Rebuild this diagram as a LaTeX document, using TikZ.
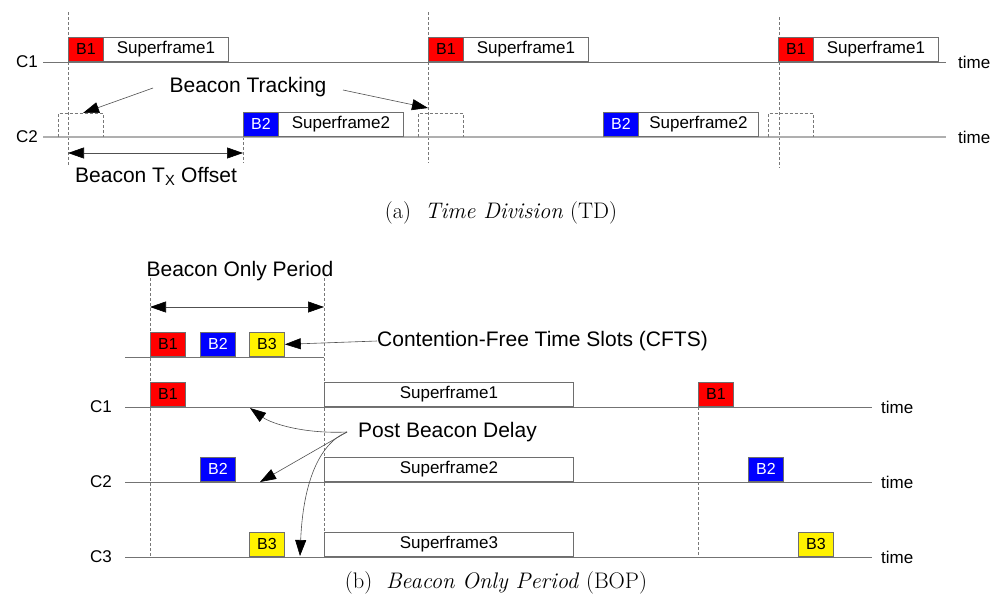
\documentclass[tikz,border=0pt]{standalone}
\usepackage{fontspec}
\setsansfont{Liberation Sans}
\usetikzlibrary{arrows.meta}
\definecolor{lineA}{RGB}{115,115,115}
\definecolor{lineB}{RGB}{175,175,175}
\definecolor{bord}{RGB}{110,110,110}
\definecolor{dashc}{RGB}{120,120,120}
\definecolor{arrc}{RGB}{80,80,80}
\tikzset{
  big/.style={font=\sffamily\fontsize{21}{24}\selectfont, inner sep=0pt},
  mid/.style={font=\sffamily\fontsize{17}{20}\selectfont, inner sep=0pt},
  bcn/.style={draw=bord, line width=0.8pt, minimum width=35pt, minimum height=24.5pt, inner sep=0pt, anchor=south west, font=\sffamily\fontsize{16}{18}\selectfont},
  sfbox/.style={draw=bord, line width=0.8pt, fill=white, minimum height=24.5pt, inner sep=0pt, anchor=south west, font=\sffamily\fontsize{17}{20}\selectfont},
  tl/.style={draw=lineA, line width=0.9pt},
  tl2/.style={draw=lineB, line width=1.2pt},
  dsh/.style={draw=dashc, line width=0.7pt, dash pattern=on 3pt off 2pt},
  arr/.style={draw=arrc, line width=0.6pt, -{Triangle[length=16pt,width=11pt,color=black]}},
  darr/.style={draw=arrc, line width=0.6pt, {Triangle[length=16pt,width=11pt,color=black]}-{Triangle[length=16pt,width=11pt,color=black]}},
  captxt/.style={font=\fontsize{22.5}{26}\selectfont, inner sep=0pt}
}
\begin{document}
\begin{tikzpicture}[x=1pt,y=-1pt]
\useasboundingbox (0,0) rectangle (992,600);
% ===== Part (a) =====
\draw[dsh] (68,12) -- (68,165);
\draw[dsh] (428,12) -- (428,163);
\draw[dsh] (779,17) -- (779,168);
\draw[dsh] (243,137) -- (243,163);
\coordinate (a1s) at (43,62); \coordinate (a1e) at (946,62);
\coordinate (a2s) at (43,137); \coordinate (a2e) at (946,137);
\draw[tl] (a1s) -- (a1e);
\draw[tl2] (a2s) -- (a2e);
\node[mid] (ac1) at (27,62) {C1};
\node[mid] (ac2) at (27,137) {C2};
\node[mid, anchor=west] (at1) at (958,62) {time};
\node[mid, anchor=west] (at2) at (958,137) {time};
\draw[dsh] (58,137) -- (58,113.5) -- (103,113.5) -- (103,137);
\draw[dsh] (418,137) -- (418,113.5) -- (463,113.5) -- (463,137);
\draw[dsh] (768,137) -- (768,113.5) -- (813,113.5) -- (813,137);
\node[sfbox, minimum width=125pt] (asf1) at (103,62) {Superframe1};
\node[bcn, fill=red] (ab1) at (68,62) {B1};
\node[sfbox, minimum width=125pt] (asf2) at (463,62) {Superframe1};
\node[bcn, fill=red] (ab2) at (428,62) {B1};
\node[sfbox, minimum width=125pt] (asf3) at (813,62) {Superframe1};
\node[bcn, fill=red] (ab3) at (778,62) {B1};
\node[sfbox, minimum width=125pt] (asf4) at (278,137) {Superframe2};
\node[bcn, fill=blue, text=white] (ab4) at (243,137) {B2};
\node[sfbox, minimum width=120pt] (asf5) at (638,137) {Superframe2};
\node[bcn, fill=blue, text=white] (ab5) at (603,137) {B2};
\node[big] (btrk) at (248,87) {Beacon Tracking};
\coordinate (bt1s) at (153,88); \coordinate (bt1e) at (83,113);
\coordinate (bt2s) at (343,90); \coordinate (bt2e) at (428,108);
\draw[arr] (bt1s) -- (bt1e);
\draw[arr] (bt2s) -- (bt2e);
\coordinate (off1) at (68,153); \coordinate (off2) at (243,153);
\draw[darr] (off1) -- (off2);
\node[big, anchor=west] (btx) at (75,176) {Beacon T\textsubscript{X} Offset};
\node[captxt] (capa) at (501,213) {(a)\ \ \textit{Time Division} (TD)};
% ===== Part (b) =====
\draw[dsh] (150,278) -- (150,557);
\draw[dsh] (324,278) -- (324,557);
\draw[dsh] (698,407) -- (698,557);
\node[big] (bop) at (240,271) {Beacon Only Period};
\coordinate (bo1) at (150,307); \coordinate (bo2) at (324,307);
\draw[darr] (bo1) -- (bo2);
\coordinate (r0s) at (125,357); \coordinate (r0e) at (324,357);
\draw[tl] (r0s) -- (r0e);
\node[bcn, fill=red] (cb1) at (150,357) {B1};
\node[bcn, fill=blue, text=white] (cb2) at (200,357) {B2};
\node[bcn, fill=yellow] (cb3) at (249,357) {B3};
\node[big, anchor=west] (cfts) at (377,341) {Contention-Free Time Slots (CFTS)};
\draw[arr] (cfts.west) -- (cb3.east);
\coordinate (b1s) at (125,407); \coordinate (b1e) at (872,407);
\coordinate (b2s) at (125,482); \coordinate (b2e) at (872,482);
\coordinate (b3s) at (125,557); \coordinate (b3e) at (872,557);
\draw[tl] (b1s) -- (b1e);
\draw[tl] (b2s) -- (b2e);
\draw[tl] (b3s) -- (b3e);
\node[mid] (bc1) at (101,407) {C1};
\node[mid] (bc2) at (101,482) {C2};
\node[mid] (bc3) at (101,557) {C3};
\node[mid, anchor=west] (bt1) at (881,407) {time};
\node[mid, anchor=west] (bt2) at (881,482) {time};
\node[mid, anchor=west] (bt3) at (881,557) {time};
\node[bcn, fill=red] (pb1) at (150,407) {B1};
\node[sfbox, minimum width=249pt] (bsf1) at (324,407) {Superframe1};
\node[bcn, fill=red] (pb1b) at (698,407) {B1};
\node[bcn, fill=blue, text=white] (pb2) at (200,482) {B2};
\node[sfbox, minimum width=249pt] (bsf2) at (324,482) {Superframe2};
\node[bcn, fill=blue, text=white] (pb2b) at (748,482) {B2};
\node[bcn, fill=yellow] (pb3) at (249,557) {B3};
\node[sfbox, minimum width=249pt] (bsf3) at (324,557) {Superframe3};
\node[bcn, fill=yellow] (pb3b) at (798,557) {B3};
\node[big, anchor=west] (pbd) at (358,432) {Post Beacon Delay};
\coordinate (pbs) at (347,432);
\coordinate (pe1) at (250,408);
\coordinate (pe2) at (260,482);
\coordinate (pe3) at (300,556);
\draw[arr] (pbs) .. controls (305,434) and (272,424) .. (pe1);
\draw[arr] (pbs) -- (pe2);
\draw[arr] (pbs) .. controls (318,444) and (303,485) .. (pe3);
\node[captxt] (capb) at (496,583) {(b)\ \ \textit{Beacon Only Period} (BOP)};
\end{tikzpicture}
\end{document}
